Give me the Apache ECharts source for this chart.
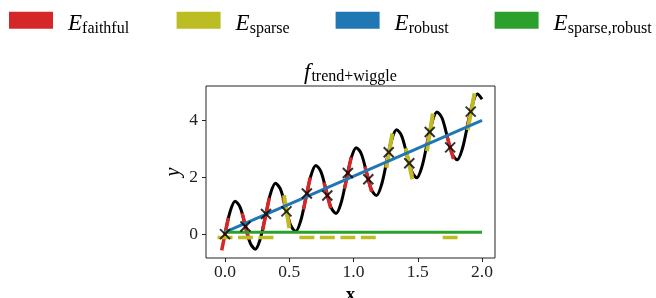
<!DOCTYPE html>
<html><head><meta charset="utf-8">
<script src="https://cdn.jsdelivr.net/npm/echarts@6/dist/echarts.min.js"></script>
<style>html,body{margin:0;padding:0;background:#fff}#c{width:656px;height:298px}</style>
</head><body><div id="c"></div><script>
// ---- data ----
const curveX = [0, 0.0393, 0.0785, 0.1178, 0.1571, 0.1963, 0.2356, 0.2749, 0.3142, 0.3534, 0.3927, 0.4320, 0.4712, 0.5105, 0.5498, 0.5890, 0.6283, 0.6676, 0.7069, 0.7461, 0.7854, 0.8247, 0.8639, 0.9032, 0.9425, 0.9817, 1.0210, 1.0603, 1.0996, 1.1388, 1.1781, 1.2174, 1.2566, 1.2959, 1.3352, 1.3744, 1.4137, 1.4530, 1.4923, 1.5315, 1.5708, 1.6101, 1.6493, 1.6886, 1.7279, 1.7671, 1.8064, 1.8457, 1.8850, 1.9242, 1.9635, 2.0];
const curveY = [0, 0.786, 1.157, 0.943, 0.314, -0.314, -0.529, -0.157, 0.628, 1.414, 1.785, 1.571, 0.943, 0.314, 0.100, 0.471, 1.257, 2.042, 2.414, 2.199, 1.571, 0.942, 0.728, 1.099, 1.885, 2.671, 3.042, 2.828, 2.199, 1.571, 1.356, 1.728, 2.513, 3.299, 3.670, 3.456, 2.827, 2.199, 1.985, 2.356, 3.142, 3.927, 4.299, 4.084, 3.456, 2.827, 2.613, 2.984, 3.770, 4.556, 4.927, 4.745];
const sampleX = [0, 0.159, 0.319, 0.478, 0.637, 0.796, 0.956, 1.115, 1.274, 1.434, 1.593, 1.752, 1.912];
const sampleY = [0, 0.27, 0.71, 0.80, 1.43, 1.36, 2.15, 1.93, 2.88, 2.49, 3.59, 3.05, 4.31];
const faithfulSlope = [22.0, -18.0, 21.9, -17.8, 21.7, -17.5, 21.3, -17.0, 20.8, -16.4, 20.1, -15.7, 19.2];
const sparseFlatX = [0, 0.159, 0.319, 0.637, 0.796, 0.956, 1.115, 1.752];
const sparseFlatY = -0.12;
const sparseSegX0 = [0.459, 1.256, 1.406, 1.572, 1.889];
const sparseSegY0 = [1.37, 2.34, 3.02, 2.92, 3.66];
const sparseSegX1 = [0.500, 1.302, 1.458, 1.617, 1.941];
const sparseSegY1 = [0.21, 3.54, 1.93, 4.24, 4.95];
const robustX = [0, 2];
const robustY = [0.07, 4.0];
const sparseRobustX = [0, 2];
const sparseRobustY = [0.07, 0.07];
const xTicks = [0, 0.5, 1, 1.5, 2];
const yTicks = [0, 2, 4];
const legendNames = ['E_faithful', 'E_sparse', 'E_robust', 'E_sparse,robust'];
const legendSubs = ['faithful', 'sparse', 'robust', 'sparse,robust'];

// ---- styling ----
const SERIF = '"Liberation Serif","DejaVu Serif",serif';
const COLORS = ['#d62728', '#bcbd22', '#1f77b4', '#2ca02c'];
const LEG_LEFT = [9, 176.6, 335.6, 494.6];
const HALF_FAITH = 0.026, HALF_FLAT = 0.058;

function seg(name, color, width, pts, z) {
  return {type: 'line', name: name, data: pts, symbol: 'none', showSymbol: false,
    lineStyle: {color: color, width: width, cap: 'butt'}, itemStyle: {color: color},
    z: z, silent: true, animation: false};
}

const series = [];
series.push({type: 'line', name: 'f', data: curveX.map((x, i) => [x, curveY[i]]), smooth: 0.33,
  symbol: 'none', showSymbol: false, lineStyle: {color: '#000', width: 3}, itemStyle: {color: '#000'},
  z: 2, silent: true, animation: false});
sampleX.forEach((x, i) => {
  const y = sampleY[i], m = faithfulSlope[i];
  series.push(seg(legendNames[0], COLORS[0], 3.5,
    [[x - HALF_FAITH, y - m * HALF_FAITH], [x + HALF_FAITH, y + m * HALF_FAITH]], 3));
});
sparseFlatX.forEach(x => series.push(seg(legendNames[1], COLORS[1], 3.5,
  [[x - HALF_FLAT, sparseFlatY], [x + HALF_FLAT, sparseFlatY]], 4)));
sparseSegX0.forEach((x, i) => series.push(seg(legendNames[1], COLORS[1], 4,
  [[x, sparseSegY0[i]], [sparseSegX1[i], sparseSegY1[i]]], 4)));
series.push(seg(legendNames[2], COLORS[2], 3, robustX.map((x, i) => [x, robustY[i]]), 5));
series.push(seg(legendNames[3], COLORS[3], 3, sparseRobustX.map((x, i) => [x, sparseRobustY[i]]), 5));
series.push({type: 'scatter', name: 'samples', data: sampleX.map((x, i) => [x, sampleY[i]]),
  symbol: 'path://M0,0L10,10M10,0L0,10', symbolSize: 10,
  itemStyle: {color: 'rgba(0,0,0,0)', borderColor: '#000', borderWidth: 2}, z: 10, silent: true, animation: false});

const legendRich = {
  sp: {width: 10},
  e: {fontFamily: SERIF, fontStyle: 'italic', fontSize: 23, lineHeight: 23, verticalAlign: 'top', padding: [4, 0, 4, 0], color: '#000'},
  s: {fontFamily: SERIF, fontSize: 16, lineHeight: 16, verticalAlign: 'top', padding: [12, 0, 4, 0], color: '#000'}
};

const option = {
  animation: false,
  backgroundColor: '#fff',
  title: {
    text: '{f|f}{s|trend+wiggle}', left: 304, top: 61, padding: 0,
    textStyle: {fontWeight: 'normal', rich: {
      f: {fontFamily: SERIF, fontStyle: 'italic', fontWeight: 'normal', fontSize: 23, lineHeight: 23, verticalAlign: 'top', color: '#000'},
      s: {fontFamily: SERIF, fontWeight: 'normal', fontSize: 16, lineHeight: 16, verticalAlign: 'top', padding: [8, 0, 0, 1], color: '#000'}
    }}
  },
  legend: legendNames.map((n, i) => ({
    data: [n], left: LEG_LEFT[i], top: 8.7, padding: 0, icon: 'rect', itemWidth: 44, itemHeight: 17,
    selectedMode: false, formatter: () => '{sp|}{e|E}{s|' + legendSubs[i] + '}',
    textStyle: {rich: legendRich}
  })),
  grid: {left: 206, top: 86, right: 161, bottom: 40, show: true, borderColor: '#222', borderWidth: 1,
    backgroundColor: 'transparent', containLabel: false, outerBoundsMode: 'none'},
  xAxis: {
    type: 'value', min: -0.148, max: 2.101, name: 'x', nameLocation: 'middle', nameGap: 27,
    nameTextStyle: {fontFamily: SERIF, fontSize: 19, fontWeight: 'bold', color: '#000'},
    axisLine: {show: false, onZero: false},
    axisTick: {show: true, length: 4, lineStyle: {color: '#222'}, customValues: xTicks},
    axisLabel: {customValues: xTicks, formatter: v => v.toFixed(1), fontFamily: SERIF, fontSize: 17.5, color: '#222', margin: 5},
    splitLine: {show: false}
  },
  yAxis: {
    type: 'value', min: -0.84, max: 5.21, name: 'y', nameLocation: 'middle', nameGap: 22, nameRotate: 90,
    nameTextStyle: {fontFamily: SERIF, fontSize: 20, fontStyle: 'italic', color: '#000'},
    axisLine: {show: false, onZero: false},
    axisTick: {show: true, length: 4, lineStyle: {color: '#222'}, customValues: yTicks},
    axisLabel: {customValues: yTicks, formatter: v => String(v), fontFamily: SERIF, fontSize: 17.5, color: '#222', margin: 8},
    splitLine: {show: false}
  },
  series: series
};
const chart = echarts.init(document.getElementById('c'), null, {renderer: 'canvas', width: 656, height: 298});
chart.setOption(option);
</script></body></html>
